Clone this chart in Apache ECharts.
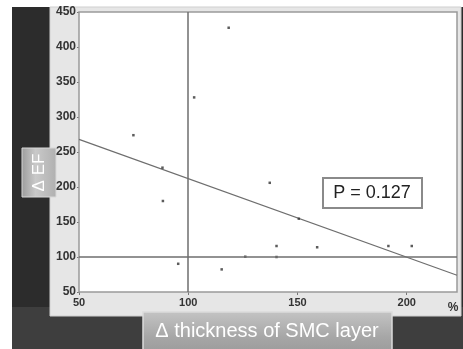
<!DOCTYPE html>
<html><head><meta charset="utf-8">
<script src="https://cdn.jsdelivr.net/npm/echarts@6/dist/echarts.min.js"></script>
<style>html,body{margin:0;padding:0;background:#fff;}#c{width:463px;height:349px;}</style>
</head><body><div id="c"></div>
<script>
// Data
const thicknessChange = [74.9, 88.2, 88.4, 95.4, 102.7, 115.3, 118.5, 126.1, 137.3, 140.4, 140.4, 150.6, 159.0, 191.6, 202.3];
const efChange        = [274, 227.6, 180, 90.3, 328, 82.3, 427.5, 100.4, 206, 115.7, 100, 154.7, 113.9, 115.7, 115.7];
const fitLineX = [50, 223];
const fitLineY = [268, 74];
const xTicks = [50, 100, 150, 200];
const yTicks = [50, 100, 150, 200, 250, 300, 350, 400, 450];
const refX = 100, refY = 100;
const pText = 'P = 0.127';

const points = thicknessChange.map((x, i) => [x, efChange[i]]);
const fit = fitLineX.map((x, i) => [x, fitLineY[i]]);

const chart = echarts.init(document.getElementById('c'), null, {renderer: 'canvas'});
const font = 'Liberation Sans, Arial, sans-serif';
chart.setOption({
  animation: false,
  backgroundColor: 'transparent',
  grid: {left: 79, top: 12, right: 6, bottom: 57, show: true, backgroundColor: '#ffffff', borderColor: '#9a9a9a', borderWidth: 1.5, z: 1},
  xAxis: {
    type: 'value', min: 50, max: 223, interval: 50,
    axisLine: {show: false},
    splitLine: {show: false},
    axisTick: {show: true, length: 3, lineStyle: {color: '#777'}, customValues: xTicks},
    axisLabel: {customValues: xTicks, color: '#333', fontSize: 11, fontWeight: 'bold', fontFamily: font, margin: 5}
  },
  yAxis: {
    type: 'value', min: 50, max: 450, interval: 50,
    axisLine: {show: false},
    splitLine: {show: false},
    axisTick: {show: true, length: 2, lineStyle: {color: '#777'}, customValues: yTicks},
    axisLabel: {customValues: yTicks, color: '#333', fontSize: 12, fontWeight: 'bold', fontFamily: font, margin: 3}
  },
  series: [
    {
      type: 'line', data: fit, symbol: 'none', z: 3,
      lineStyle: {color: '#6e6e6e', width: 1.2},
      markLine: {
        silent: true, symbol: 'none', label: {show: false},
        lineStyle: {color: '#6e6e6e', width: 1.5, type: 'solid'},
        data: [{xAxis: refX}, {yAxis: refY}]
      }
    },
    {
      type: 'scatter', data: points, symbol: 'rect', symbolSize: 2.5, z: 4,
      itemStyle: {color: '#333'}
    }
  ],
  graphic: [
    {type: 'rect', z: -10, shape: {x: 12, y: 7, width: 451, height: 342}, style: {fill: '#2c2c2c'}},
    {type: 'rect', z: -9, shape: {x: 12, y: 307, width: 451, height: 42}, style: {fill: '#3e3e3e'}},
    {type: 'rect', z: -8, shape: {x: 50, y: 7, width: 411, height: 309}, style: {fill: '#e6e6e6', stroke: '#cfcfcf', lineWidth: 1}},
    {type: 'rect', z: -2, shape: {x: 22, y: 148, width: 34, height: 49},
      style: {fill: new echarts.graphic.LinearGradient(0, 0, 1, 0, [{offset: 0, color: '#9c9c9c'}, {offset: 0.4, color: '#c9c9c9'}, {offset: 1, color: '#b0b0b0'}]), stroke: '#d8d8d8', lineWidth: 1}},
    {type: 'text', z: -1, x: 39, y: 172.5, rotation: Math.PI / 2,
      style: {text: 'Δ EF', fill: '#ffffff', font: '17px ' + font, textAlign: 'center', textVerticalAlign: 'middle'}},
    {type: 'rect', z: 20, shape: {x: 143, y: 312, width: 249, height: 42},
      style: {fill: new echarts.graphic.LinearGradient(0, 0, 0, 1, [{offset: 0, color: '#c4c4c4'}, {offset: 0.6, color: '#a6a6a6'}, {offset: 1, color: '#9a9a9a'}]), stroke: '#dcdcdc', lineWidth: 1.5}},
    {type: 'text', z: 21, x: 267, y: 331,
      style: {text: 'Δ thickness of SMC layer', fill: '#ffffff', font: '20px ' + font, textAlign: 'center', textVerticalAlign: 'middle'}},
    {type: 'text', z: 21, x: 453, y: 308,
      style: {text: '%', fill: '#333', font: 'bold 12px ' + font, textAlign: 'center', textVerticalAlign: 'middle'}},
    {type: 'rect', z: 20, shape: {x: 323, y: 178, width: 99, height: 30},
      style: {fill: '#ffffff', stroke: '#8a8a8a', lineWidth: 2}},
    {type: 'text', z: 21, x: 372, y: 193.5,
      style: {text: pText, fill: '#222', font: '18px ' + font, textAlign: 'center', textVerticalAlign: 'middle'}}
  ]
});
</script></body></html>
